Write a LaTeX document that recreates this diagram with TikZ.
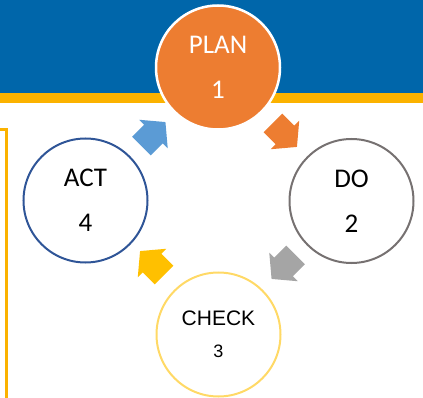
\documentclass[tikz,border=0pt]{standalone}
\usepackage{fontspec}
\setmainfont{Carlito}
\newfontfamily\arialfont{Liberation Sans}
\usepackage{tikz}
\usetikzlibrary{shapes.arrows}

\definecolor{bandblue}{RGB}{0,102,170}
\definecolor{bandyellow}{RGB}{251,178,0}
\definecolor{planorange}{RGB}{237,125,49}
\definecolor{dogray}{RGB}{118,113,113}
\definecolor{arrowgray}{RGB}{165,165,165}
\definecolor{checkyellow}{RGB}{255,217,102}
\definecolor{arrowyellow}{RGB}{255,192,0}
\definecolor{actblue}{RGB}{47,85,151}
\definecolor{arrowblue}{RGB}{91,155,213}

\begin{document}
\begin{tikzpicture}[x=1pt,y=-1pt,
  phase/.style={draw,circle,line width=2pt,minimum size=124pt,inner sep=0pt,
    align=center,font=\fontsize{27}{45}\selectfont},
  turn/.style={single arrow,inner xsep=0pt,inner ysep=13pt,minimum height=34pt,
    single arrow head extend=7pt,single arrow tip angle=100}]
  \useasboundingbox (0,0) rectangle (423,398);

  % header bands
  \fill[bandblue] (0,0) rectangle (423,93);
  \fill[bandyellow] (0,93) rectangle (423,103);
  \draw[bandyellow,line width=3pt] (0,130) -- (6.5,130) -- (6.5,398);

  \node[phase,fill=planorange,draw=white,line width=2.5pt,text=white] (plan) at (218,67.5) {PLAN\\1};
  \node[phase,draw=dogray] (do) at (351.5,201) {DO\\2};
  \node[phase,draw=checkyellow,font=\arialfont\fontsize{21}{32}\selectfont] (check) at (218.5,334.5) {CHECK\\{\fontsize{18}{32}\selectfont 3}};
  \node[phase,draw=actblue] (act) at (85.5,200.5) {ACT\\4};

  \node[turn,fill=planorange,rotate=-45] (plan2do) at (281,131) {};
  \node[turn,fill=arrowgray,rotate=-135] (do2check) at (287.5,263) {};
  \node[turn,fill=arrowyellow,rotate=135] (check2act) at (156,267) {};
  \node[turn,fill=arrowblue,rotate=45] (act2plan) at (149.5,138) {};
\end{tikzpicture}
\end{document}
